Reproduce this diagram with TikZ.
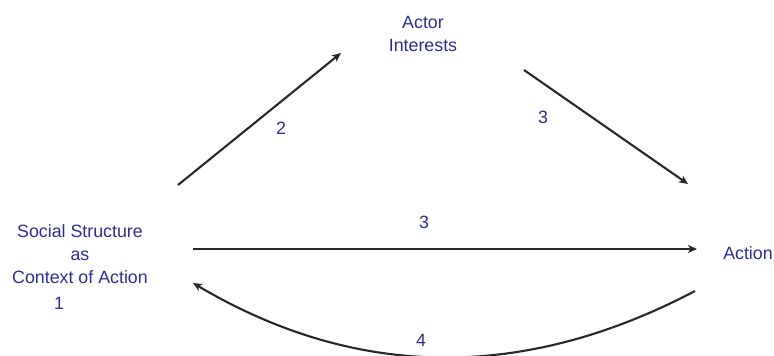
\documentclass[tikz,border=0pt]{standalone}
\usepackage{fontspec}
\setmainfont{Liberation Sans}
\usetikzlibrary{arrows.meta}
\definecolor{txtblue}{RGB}{45,45,150}
\definecolor{arrgray}{RGB}{40,40,40}
\begin{document}
\begin{tikzpicture}[x=1pt,y=-1pt,
  lbl/.style={text=txtblue,font=\fontsize{17.8}{23}\selectfont,inner sep=0pt,align=center,anchor=center},
  conn/.style={draw=arrgray,line width=2.1pt,-{Stealth[length=9pt,width=8pt,inset=2.5pt]}}]
\useasboundingbox (0,0) rectangle (774,356);
\node[lbl] (actor) at (423,34) {Actor\\Interests};
\node[lbl] (social) at (80,254) {Social Structure\\as\\Context of Action};
\node[lbl] (one) at (59,303) {1};
\node[lbl] (action) at (748,253) {Action};
\node[lbl] (two) at (281,128) {2};
\node[lbl] (threeA) at (543,117) {3};
\node[lbl] (threeB) at (424,222) {3};
\node[lbl] (four) at (421,340) {4};
\coordinate (a1s) at (178,185);
\coordinate (a1e) at (341,53);
\coordinate (a2s) at (524,70);
\coordinate (a2e) at (688,184);
\coordinate (a3s) at (193,249);
\coordinate (a3e) at (697,249);
\coordinate (a4s) at (695,291);
\coordinate (a4e) at (193,283);
\draw[conn] (a1s) -- (a1e);
\draw[conn] (a2s) -- (a2e);
\draw[conn] (a3s) -- (a3e);
\draw[conn] (a4s) .. controls (522,382) and (355,379) .. (a4e);
\end{tikzpicture}
\end{document}
